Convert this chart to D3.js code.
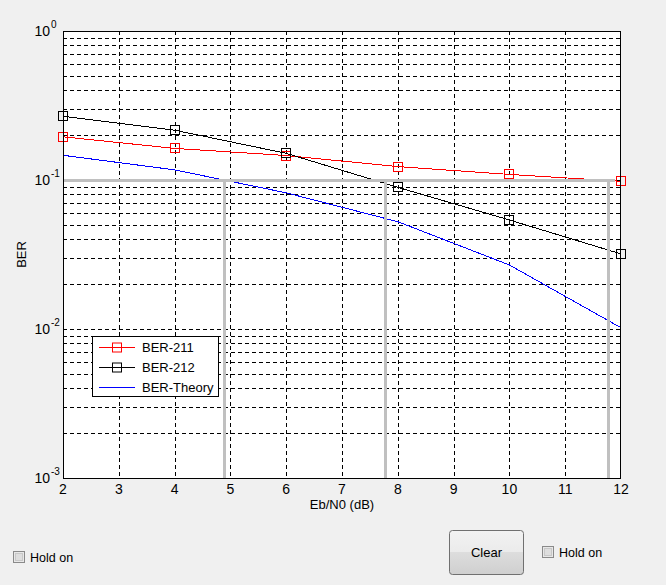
<!DOCTYPE html>
<html>
<head>
<meta charset="utf-8">
<script src="https://cdn.jsdelivr.net/npm/d3@7"></script>
<style>
html,body{margin:0;padding:0;background:#f0f0f0;}
svg{display:block;font-family:"Liberation Sans",Arial,sans-serif;}
</style>
</head>
<body>
<svg id="chart" width="666" height="585"></svg>
<script>
// ---- data ----
const snr = [2, 4, 6, 8, 10, 12];
const ber211 = [0.195, 0.163, 0.146, 0.123, 0.109, 0.098];
const ber212 = [0.268, 0.216, 0.151, 0.0893, 0.0539, 0.0319];
const berTheory = [0.1465, 0.117, 0.082, 0.0525, 0.0269, 0.0102];
const thresholdBER = 0.1;
const thresholdSNR = [4.89, 7.78, 11.78];
const thresholdEnd = 11.89;
const xTicks = [2, 3, 4, 5, 6, 7, 8, 9, 10, 11, 12];
const yTicks = [1, 0.1, 0.01, 0.001];
const yTickExp = ["0", "-1", "-2", "-3"];
const seriesNames = ["BER-211", "BER-212", "BER-Theory"];
const seriesColors = ["#ff0000", "#000000", "#0000ff"];

// ---- layout ----
const L = 63, R = 621, T = 31, B = 478;
const svg = d3.select("#chart");
const x = d3.scaleLinear().domain([2, 12]).range([L, R]);
const y = d3.scaleLog().domain([0.001, 1]).range([B, T]);

// axes background
svg.append("rect").attr("x", L).attr("y", T).attr("width", R - L).attr("height", B - T).attr("fill", "#fff");

// grid
const grid = svg.append("g").attr("stroke", "#000").attr("stroke-width", 1).attr("stroke-dasharray", "4,3").attr("shape-rendering", "crispEdges");
const yGridVals = [];
for (let e = -3; e < 0; e++) for (let m = 1; m < 10; m++) yGridVals.push(m * Math.pow(10, e));
yGridVals.filter(v => v > 0.001 * 1.0001).forEach(v => {
  grid.append("line").attr("x1", L).attr("x2", R).attr("y1", Math.round(y(v)) + 0.5).attr("y2", Math.round(y(v)) + 0.5);
});
xTicks.slice(1, -1).forEach(v => {
  grid.append("line").attr("x1", Math.round(x(v)) + 0.5).attr("x2", Math.round(x(v)) + 0.5).attr("y1", T).attr("y2", B);
});

// data lines
const lineGen = d3.line().x((d, i) => x(snr[i])).y(d => y(d));
const allSeries = [ber211, ber212, berTheory];
allSeries.forEach((s, k) => {
  svg.append("path").datum(s).attr("d", lineGen).attr("fill", "none").attr("stroke", seriesColors[k]).attr("stroke-width", 1).attr("shape-rendering", "crispEdges");
});

// threshold gray lines
const gray = svg.append("g").attr("stroke", "#c0c0c0").attr("stroke-width", 3).attr("shape-rendering", "crispEdges");
gray.append("line").attr("x1", x(2)).attr("x2", x(thresholdEnd)).attr("y1", y(thresholdBER)).attr("y2", y(thresholdBER));
thresholdSNR.forEach(v => {
  gray.append("line").attr("x1", x(v)).attr("x2", x(v)).attr("y1", y(thresholdBER) - 1.5).attr("y2", B);
});

// markers
[0, 1].forEach(k => {
  svg.append("g").selectAll("rect").data(allSeries[k]).join("rect")
    .attr("x", (d, i) => Math.round(x(snr[i])) - 4.5).attr("y", d => Math.round(y(d)) - 4.5)
    .attr("width", 9).attr("height", 9).attr("fill", "none").attr("stroke", seriesColors[k]).attr("stroke-width", 1);
});

// axes box
svg.append("rect").attr("x", L + 0.5).attr("y", T + 0.5).attr("width", R - L - 1).attr("height", B - T).attr("fill", "none").attr("stroke", "#000").attr("stroke-width", 1).attr("shape-rendering", "crispEdges");

// x tick labels
svg.append("g").selectAll("text").data(xTicks).join("text")
  .attr("x", d => x(d)).attr("y", 494).attr("text-anchor", "middle").attr("font-size", 14).attr("fill", "#000").text(d => d);

// y tick labels
yTicks.forEach((v, i) => {
  const yy = y(v);
  svg.append("text").attr("x", 50).attr("y", yy + 5).attr("text-anchor", "end").attr("font-size", 14).attr("fill", "#000").text("10");
  svg.append("text").attr("x", 51).attr("y", yy - 3).attr("text-anchor", "start").attr("font-size", 10).attr("fill", "#000").text(yTickExp[i]);
});

// axis labels
svg.append("text").attr("x", (L + R) / 2).attr("y", 509).attr("text-anchor", "middle").attr("font-size", 13).attr("fill", "#000").text("Eb/N0 (dB)");
svg.append("text").attr("transform", `translate(26,${(T + B) / 2}) rotate(-90)`).attr("text-anchor", "middle").attr("font-size", 13).attr("fill", "#000").text("BER");

// legend
const lg = svg.append("g");
lg.append("rect").attr("x", 92.5).attr("y", 336.5).attr("width", 126).attr("height", 60).attr("fill", "#fff").attr("stroke", "#000").attr("stroke-width", 1);
seriesNames.forEach((name, k) => {
  const ly = 347 + k * 20;
  lg.append("line").attr("x1", 99).attr("x2", 135).attr("y1", ly + 0.5).attr("y2", ly + 0.5).attr("stroke", seriesColors[k]).attr("stroke-width", 1);
  if (k < 2) lg.append("rect").attr("x", 112.5).attr("y", ly - 4).attr("width", 9).attr("height", 9).attr("fill", "none").attr("stroke", seriesColors[k]);
  lg.append("text").attr("x", 142).attr("y", ly + 5).attr("font-size", 13).attr("fill", "#000").text(name);
});

// UI controls
function checkbox(cx, cy, label) {
  const g = svg.append("g");
  g.append("rect").attr("x", cx + 0.5).attr("y", cy + 0.5).attr("width", 11).attr("height", 11).attr("fill", "#e8e8e8").attr("stroke", "#8a8a8a");
  g.append("rect").attr("x", cx + 2.5).attr("y", cy + 2.5).attr("width", 7).attr("height", 7).attr("fill", "#dedede").attr("stroke", "#c8c8c8");
  g.append("text").attr("x", cx + 17).attr("y", cy + 11).attr("font-size", 12.5).attr("fill", "#000").text(label);
}
checkbox(13, 551, "Hold on");
checkbox(542, 546, "Hold on");

const defs = svg.append("defs");
const grad = defs.append("linearGradient").attr("id", "btn").attr("x1", 0).attr("y1", 0).attr("x2", 0).attr("y2", 1);
grad.append("stop").attr("offset", "0%").attr("stop-color", "#f2f2f2");
grad.append("stop").attr("offset", "48%").attr("stop-color", "#ebebeb");
grad.append("stop").attr("offset", "50%").attr("stop-color", "#dddddd");
grad.append("stop").attr("offset", "100%").attr("stop-color", "#cfcfcf");
svg.append("rect").attr("x", 449.5).attr("y", 530.5).attr("width", 74).attr("height", 44).attr("rx", 3).attr("fill", "url(#btn)").attr("stroke", "#707070");
svg.append("text").attr("x", 486.5).attr("y", 557).attr("text-anchor", "middle").attr("font-size", 13).attr("fill", "#000").text("Clear");
</script>
</body>
</html>
